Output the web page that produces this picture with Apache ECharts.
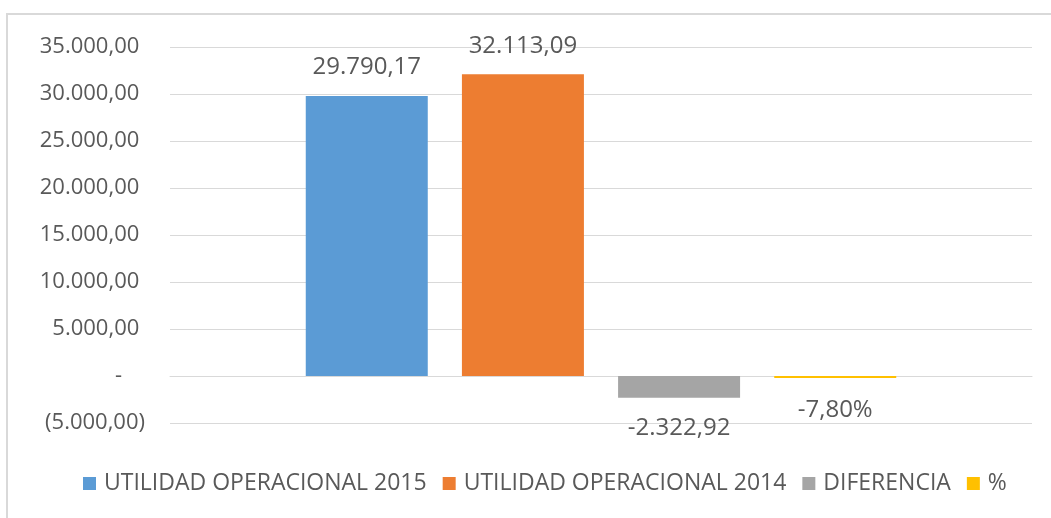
<!DOCTYPE html>
<html>
<head>
<meta charset="utf-8">
<script src="https://cdn.jsdelivr.net/npm/echarts@6/dist/echarts.min.js"></script>
<style>
  html, body { margin: 0; padding: 0; background: #fff; }
  #chart { width: 1051px; height: 518px; }
</style>
</head>
<body>
<div id="chart"></div>
<script>
// datos del grafico
var categorias = ["UTILIDAD OPERACIONAL"];
var seriesNombres = ["UTILIDAD OPERACIONAL 2015", "UTILIDAD OPERACIONAL 2014", "DIFERENCIA", "%"];
var valores2015 = [29790.17];
var valores2014 = [32113.09];
var diferencia = [-2322.92];
var porcentaje = [-0.078];
var colores = ["#5B9BD5", "#ED7D31", "#A5A5A5", "#FFC000"];

// formato numerico estilo es-CO: 35.000,00
function fmtNum(v) {
  var neg = v < 0;
  var s = Math.abs(v).toFixed(2).split(".");
  var ent = s[0].replace(/\B(?=(\d{3})+(?!\d))/g, ".");
  return (neg ? "-" : "") + ent + "," + s[1];
}
function fmtEje(v) {
  if (v === 0) return "-    ";
  if (v < 0) return "(" + fmtNum(-v) + ")";
  return fmtNum(v) + " ";
}

var fuente = "Open Sans";
var gris = "#595959";

function serie(i, datos, pos, dist, fmt) {
  return {
    name: seriesNombres[i],
    type: "bar",
    data: datos,
    barWidth: 122,
    barGap: "28%",
    barMinHeight: i === 3 ? 2 : 0,
    itemStyle: { color: colores[i] },
    label: {
      show: true,
      position: pos,
      distance: dist,
      color: gris,
      fontFamily: fuente,
      fontSize: 24,
      formatter: fmt
    }
  };
}

var myChart = echarts.init(document.getElementById("chart"));
myChart.setOption({
  animation: false,
  textStyle: { fontFamily: fuente },
  graphic: [
    {
      type: "rect",
      shape: { x: 7, y: 14, width: 1100, height: 600 },
      style: { fill: "none", stroke: "#d9d9d9", lineWidth: 2 },
      silent: true
    }
  ],
  grid: { left: 170, right: 19, top: 47, bottom: 95, containLabel: false },
  legend: {
    data: seriesNombres,
    left: 78,
    top: 467,
    icon: "rect",
    itemWidth: 13,
    itemHeight: 13,
    itemGap: 16,
    textStyle: { color: gris, fontFamily: fuente, fontSize: 23, padding: [0, 0, 0, 3] }
  },
  xAxis: {
    type: "category",
    data: categorias,
    axisLabel: { show: false },
    axisTick: { show: false },
    axisLine: { lineStyle: { color: "#d9d9d9", width: 1 } }
  },
  yAxis: {
    type: "value",
    min: -5000,
    max: 35000,
    interval: 5000,
    axisLine: { show: false },
    axisTick: { show: false },
    splitLine: { lineStyle: { color: "#d9d9d9", width: 1 } },
    axisLabel: {
      color: gris,
      fontFamily: fuente,
      fontSize: 22,
      margin: 25,
      formatter: fmtEje
    }
  },
  series: [
    serie(0, valores2015, "top", 17, function (p) { return fmtNum(p.value); }),
    serie(1, valores2014, "top", 16, function (p) { return fmtNum(p.value); }),
    serie(2, diferencia, "bottom", 18, function (p) { return fmtNum(p.value); }),
    serie(3, porcentaje, "bottom", 20, function (p) { return fmtNum(p.value * 100) + "%"; })
  ]
});
window.addEventListener("resize", function () {
  myChart.resize();
});
</script>
</body>
</html>
